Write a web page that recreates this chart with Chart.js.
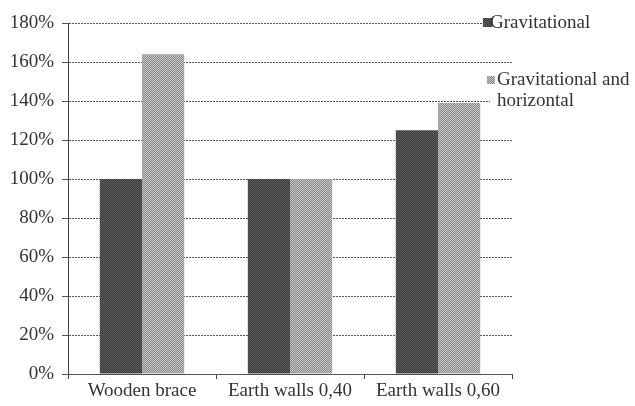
<!DOCTYPE html>
<html>
<head>
<meta charset="utf-8">
<script src="https://cdn.jsdelivr.net/npm/chart.js@4"></script>
<style>
  html, body { margin: 0; padding: 0; background: #fff; }
  #wrap { width: 635px; height: 406px; }
</style>
</head>
<body>
<div id="wrap"><canvas id="myChart" width="635" height="406"></canvas></div>
<script>
const categories = ['Wooden brace', 'Earth walls 0,40', 'Earth walls 0,60'];
const gravitational = [100, 100, 125];
const gravHorizontal = [164, 100, 139];
const seriesNames = ['Gravitational', 'Gravitational and horizontal'];
const yTicks = [0, 20, 40, 60, 80, 100, 120, 140, 160, 180];

// dithered fill, like the scanned bars
const makePattern = (c1, c2) => {
    const p = document.createElement('canvas');
    p.width = 2; p.height = 2;
    const g = p.getContext('2d');
    g.fillStyle = c1; g.fillRect(0, 0, 2, 2);
    g.fillStyle = c2; g.fillRect(0, 0, 1, 1); g.fillRect(1, 1, 1, 1);
    return g.createPattern(p, 'repeat');
};

const ctx = document.getElementById('myChart').getContext('2d');
const darkFill = makePattern('#3a3a3a', '#5e5e5e');
const lightFill = makePattern('#8a8a8a', '#c4c4c4');

const font = { family: '"Liberation Serif", "Times New Roman", serif', size: 19 };

const legendPlugin = {
    id: 'sideLegend',
    afterDraw(chart) {
        const c = chart.ctx;
        const ds = chart.data.datasets;
        c.save();
        c.font = font.size + 'px ' + font.family;
        c.textBaseline = 'middle';
        // first entry
        c.fillStyle = '#fff';
        c.fillRect(483, 12, 152, 22);
        c.fillStyle = darkFill;
        c.fillRect(483, 18, 9, 9);
        c.fillStyle = '#333';
        c.fillText(ds[0].label, 490, 23);
        // second entry, wrapped
        c.fillStyle = '#fff';
        c.fillRect(490, 70, 145, 40);
        c.fillStyle = lightFill;
        c.fillRect(487, 76, 8, 8);
        c.fillStyle = '#333';
        c.fillText('Gravitational and', 497, 80);
        c.fillText('horizontal', 497, 101);
        c.restore();
    }
};

new Chart(ctx, {
    type: 'bar',
    data: {
        labels: categories,
        datasets: [{
            label: seriesNames[0],
            data: gravitational,
            backgroundColor: darkFill,
            borderWidth: 0,
        }, {
            label: seriesNames[1],
            data: gravHorizontal,
            backgroundColor: lightFill,
            borderWidth: 0,
        }],
    },
    options: {
        responsive: false,
        animation: false,
        devicePixelRatio: 1,
        layout: { padding: { top: 23, right: 123, bottom: 0, left: 0 } },
        datasets: { bar: { categoryPercentage: 0.57, barPercentage: 1 } },
        plugins: {
            legend: { display: false },
            tooltip: { enabled: false },
        },
        scales: {
            x: {
                afterFit: (s) => { s.height = 32; },
                grid: { drawOnChartArea: false, drawTicks: true, tickLength: 5, color: '#444', offset: true },
                border: { color: '#555', width: 1 },
                ticks: { color: '#333', font: font, padding: 1, maxRotation: 0, autoSkip: false },
            },
            y: {
                min: 0,
                max: 180,
                afterFit: (s) => { s.width = 68; },
                afterBuildTicks: (s) => { s.ticks = yTicks.map(v => ({ value: v })); },
                grid: { color: '#555', lineWidth: 1, tickLength: 6 },
                border: { color: '#444', width: 1, dash: [2, 1] },
                ticks: {
                    color: '#333',
                    font: font,
                    padding: 8,
                    callback: (v) => v + '%',
                },
            },
        },
    },
    plugins: [legendPlugin],
});
</script>
</body>
</html>
